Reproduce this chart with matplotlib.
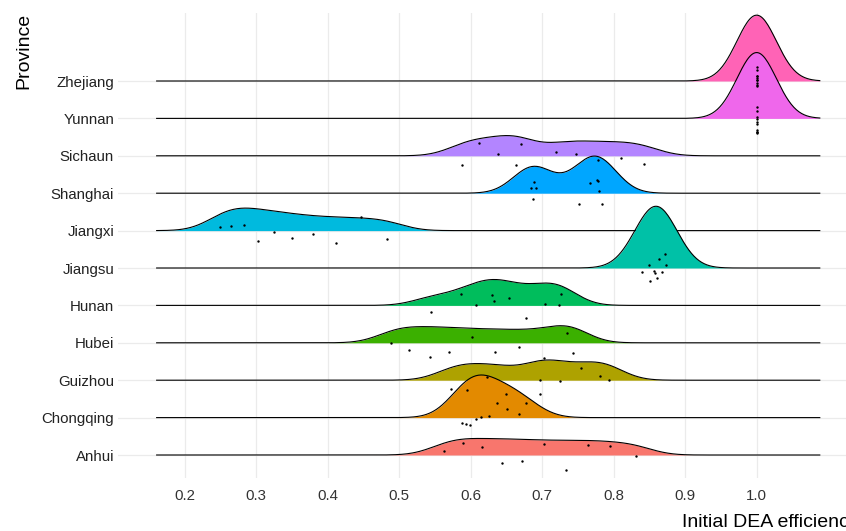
import matplotlib.pyplot as plt
import numpy as np

plt.rcParams['font.family'] = ['Liberation Sans', 'DejaVu Sans']

# provinces, bottom row first (ggplot factor order)
provinces = ["Anhui", "Chongqing", "Guizhou", "Hubei", "Hunan", "Jiangsu",
             "Jiangxi", "Shanghai", "Sichaun", "Yunnan", "Zhejiang"]

# initial DEA efficiency per province
anhui = [0.563, 0.589, 0.616, 0.644, 0.672, 0.702, 0.733, 0.764, 0.795, 0.831]
chongqing = [0.588, 0.593, 0.599, 0.607, 0.614, 0.626, 0.637, 0.651, 0.667, 0.678]
guizhou = [0.572, 0.595, 0.623, 0.649, 0.697, 0.697, 0.725, 0.754, 0.781, 0.794]
hubei = [0.489, 0.514, 0.543, 0.570, 0.602, 0.634, 0.668, 0.703, 0.735, 0.743]
hunan = [0.545, 0.586, 0.607, 0.630, 0.633, 0.654, 0.678, 0.704, 0.723, 0.727]
jiangsu = [0.839, 0.849, 0.851, 0.856, 0.858, 0.861, 0.863, 0.867, 0.872, 0.873]
jiangxi = [0.249, 0.265, 0.283, 0.303, 0.325, 0.350, 0.379, 0.412, 0.446, 0.483]
shanghai = [0.684, 0.687, 0.688, 0.691, 0.752, 0.767, 0.777, 0.778, 0.780, 0.783]
sichaun = [0.588, 0.612, 0.638, 0.664, 0.670, 0.719, 0.747, 0.778, 0.810, 0.842]
yunnan = [1.0, 1.0, 1.0, 1.0, 1.0, 1.0, 1.0, 1.0, 1.0, 1.0]
zhejiang = [1.0, 1.0, 1.0, 1.0, 1.0, 1.0, 1.0, 1.0, 1.0, 1.0]

values = [anhui, chongqing, guizhou, hubei, hunan, jiangsu,
          jiangxi, shanghai, sichaun, yunnan, zhejiang]

# ggplot hue palette for 11 levels (Hubei a bit greener, as in the picture)
colors = ["#F8766D", "#E38A00", "#AEA200", "#3BB000", "#00BD5C", "#00C1A7",
          "#00BADE", "#00A6FF", "#B385FF", "#EF67EB", "#FF63B6"]

xticks = [0.2, 0.3, 0.4, 0.5, 0.6, 0.7, 0.8, 0.9, 1.0]

bw = 0.0276      # joint bandwidth
scale = 1.76     # ridge height relative to row spacing

allx = np.concatenate([np.asarray(v) for v in values])
grid = np.linspace(allx.min() - 3.2 * bw, allx.max() + 3.2 * bw, 512)


def kde(v):
    v = np.asarray(v)
    d = np.exp(-0.5 * ((grid[:, None] - v[None, :]) / bw) ** 2).sum(axis=1)
    return d / (len(v) * bw * np.sqrt(2 * np.pi))


dens = [kde(v) for v in values]
top = max(d.max() for d in dens)

fig = plt.figure(figsize=(8.46, 5.31), dpi=100)
ax = fig.add_axes([0.1398, 0.0998, 0.875, 0.8757])

n = len(provinces)
# draw top row first so lower ridges overlap the ones above
for i in reversed(range(n)):
    y0 = i + 1
    h = dens[i] / top * scale
    z = 3 + (n - i)
    ax.fill_between(grid, y0, y0 + h, color=colors[i], lw=0, zorder=z)
    ax.plot(grid, y0 + h, color="black", lw=0.8, zorder=z)

# jittered points like geom_jitter(height = 0.4)
rng = np.random.default_rng(7)
for i, v in enumerate(values):
    jit = rng.uniform(-0.4, 0.4, len(v))
    ax.scatter(v, i + 1 + jit, s=3, c="black", linewidths=0, zorder=30)

ax.set_xlim(0.107, 1.1425)
ax.set_ylim(0.385, 12.818)
ax.set_xticks(xticks)
ax.set_xticklabels([f"{t:.1f}" for t in xticks])
ax.set_yticks(range(1, n + 1))
ax.set_yticklabels(provinces)
ax.grid(color="#EBEBEB", lw=0.9)
ax.set_axisbelow(True)
for s in ax.spines.values():
    s.set_visible(False)
ax.tick_params(axis="x", length=0, pad=8, labelsize=10.8, labelcolor="#333333")
ax.tick_params(axis="y", length=0, pad=3, labelsize=10.8, labelcolor="#222222")

ax.set_xlabel("Initial DEA efficiency", loc="right", fontsize=14, labelpad=8)
ax.set_ylabel("Province", loc="top", fontsize=14)
ax.yaxis.set_label_coords(-0.116, 1.0)

fig.savefig("out.png", dpi=100)
